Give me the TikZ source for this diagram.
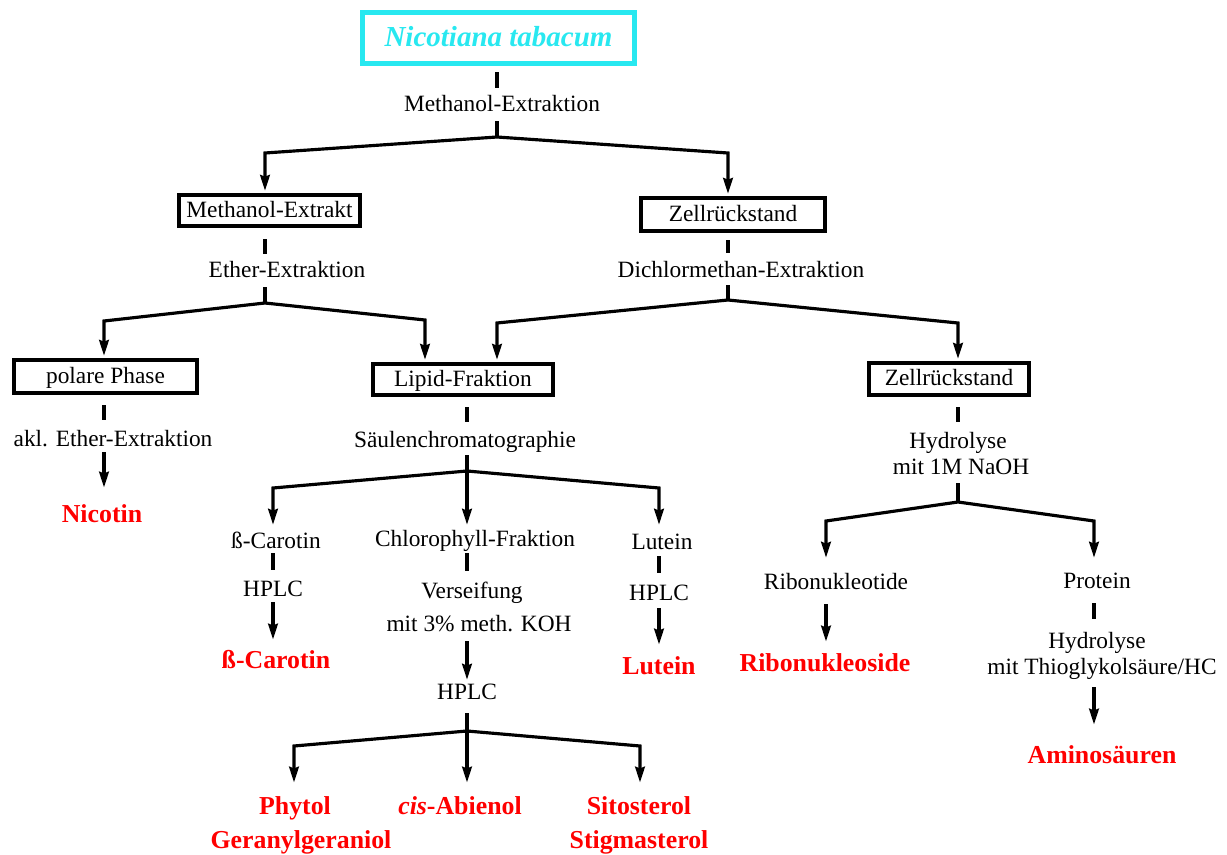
\documentclass[tikz,border=0pt]{standalone}
\usepackage{fontspec}
\setmainfont{Liberation Serif}
\usetikzlibrary{arrows.meta}
\definecolor{cyanbox}{RGB}{40,232,240}
\begin{document}
\begin{tikzpicture}[x=0.02cm,y=-0.02cm,
 lbl/.style={font=\fontsize{13.3}{16}\selectfont, inner sep=0pt, text height=10.5pt, text depth=2pt},
 res/.style={font=\fontsize{14.7}{17}\selectfont\bfseries, text=red, inner sep=0pt, text height=11.5pt, text depth=2.3pt},
 box/.style={draw, line width=2.5pt, inner sep=0pt, font=\fontsize{13.3}{16}\selectfont, text height=10pt, text depth=2.5pt},
 tk/.style={line width=1.8pt},
 ar/.style={line width=1.8pt, -{Stealth[length=9pt,width=5.5pt,inset=1pt]}},
]
\useasboundingbox (0,0) rectangle (1227,855);

% boxes
\node[draw=cyanbox, line width=2.8pt, inner sep=0pt, minimum width=5.44cm, minimum height=1.02cm,
      font=\fontsize{16.5}{19}\selectfont\bfseries\itshape, text=cyanbox, text height=12pt, text depth=2pt] (top) at (498.5,38) {Nicotiana tabacum};
\node[box, minimum width=3.62cm, minimum height=0.62cm] (mex) at (269.5,210.5) {Methanol-Extrakt};
\node[box, minimum width=3.68cm, minimum height=0.66cm] (zr1) at (733,214.5) {Zellrückstand};
\node[box, minimum width=3.66cm, minimum height=0.66cm] (pol) at (105.5,376.5) {polare Phase};
\node[box, minimum width=3.60cm, minimum height=0.62cm] (lip) at (463,379.5) {Lipid-Fraktion};
\node[box, minimum width=3.20cm, minimum height=0.64cm] (zr2) at (949,379) {Zellrückstand};

% labels
\node[lbl] (meth) at (502,104) {Methanol-Extraktion};
\node[lbl] (ethx) at (287,270) {Ether-Extraktion};
\node[lbl] (dcm) at (741,270) {Dichlormethan-Extraktion};
\node[lbl] (akl) at (113,439) {akl. Ether-Extraktion};
\node[lbl] (saeu) at (465,440) {Säulenchromatographie};
\node[lbl] (hyd1a) at (958,441) {Hydrolyse};
\node[lbl] (hyd1b) at (961,467) {mit 1M NaOH};
\node[lbl] (bcar) at (276,541) {ß-Carotin};
\node[lbl] (hplc1) at (273,589) {HPLC};
\node[lbl] (chl) at (475,539) {Chlorophyll-Fraktion};
\node[lbl] (vers) at (472,591) {Verseifung};
\node[lbl] (koh) at (479,624) {mit 3\% meth. KOH};
\node[lbl] (hplc2) at (467,692) {HPLC};
\node[lbl] (lut) at (662,542) {Lutein};
\node[lbl] (hplc3) at (659,593) {HPLC};
\node[lbl] (ribt) at (836,582) {Ribonukleotide};
\node[lbl] (prot) at (1097,581) {Protein};
\node[lbl] (hyd2a) at (1097,641) {Hydrolyse};
\node[lbl] (hyd2b) at (1102,667) {mit Thioglykolsäure/HC};

% results
\node[res] (nic) at (102,514) {Nicotin};
\node[res] (bcr) at (276,660) {ß-Carotin};
\node[res] (lutr) at (659,666) {Lutein};
\node[res] (ribs) at (825,663) {Ribonukleoside};
\node[res] (amino) at (1102,755) {Aminosäuren};
\node[res] (phy) at (295,806) {Phytol};
\node[res] (ger) at (301,840) {Geranylgeraniol};
\node[res] (cis) at (460,806) {\textit{cis}-Abienol};
\node[res] (sito) at (639,806) {Sitosterol};
\node[res] (stig) at (639,840) {Stigmasterol};

% branch points and corners
\coordinate (b1) at (497,137);
\coordinate (c1) at (265,153);
\coordinate (c2) at (728,153);
\coordinate (b2) at (265,303);
\coordinate (c3) at (104,321);
\coordinate (c4) at (425,320);
\coordinate (b3) at (728,300);
\coordinate (c5) at (497,323);
\coordinate (c6) at (958,323);
\coordinate (b4) at (467,471);
\coordinate (c7) at (273,488);
\coordinate (c8) at (659,488);
\coordinate (b5) at (467,731);
\coordinate (c9) at (294,746);
\coordinate (c10) at (640,746);
\coordinate (b6) at (958,502);
\coordinate (c11) at (826,521);
\coordinate (c12) at (1094,521);

% connectors
\draw[tk, shorten <=0.13cm, shorten >=0.1cm] (b1 |- top.south) -- (b1 |- meth.north);
\draw[tk, shorten <=0.12cm] (b1 |- meth.south) -- (b1);
\draw[ar, shorten >=0.04cm] (b1) -- (c1) -- (c1 |- mex.north);
\draw[ar, shorten >=0.04cm] (b1) -- (c2) -- (c2 |- zr1.north);
\draw[tk, shorten <=0.22cm, shorten >=0.1cm] (c1 |- mex.south) -- (c1 |- ethx.north);
\draw[tk, shorten <=0.12cm] (b2 |- ethx.south) -- (b2);
\draw[ar, shorten >=0.04cm] (b2) -- (c3) -- (c3 |- pol.north);
\draw[ar, shorten >=0.04cm] (b2) -- (c4) -- (c4 |- lip.north);
\draw[tk, shorten <=0.14cm, shorten >=0.12cm] (c2 |- zr1.south) -- (c2 |- dcm.north);
\draw[tk, shorten <=0.08cm] (b3 |- dcm.south) -- (b3);
\draw[ar, shorten >=0.04cm] (b3) -- (c5) -- (c5 |- lip.north);
\draw[ar, shorten >=0.04cm] (b3) -- (c6) -- (c6 |- zr2.north);
\draw[tk, shorten <=0.2cm, shorten >=0.16cm] (c3 |- pol.south) -- (c3 |- akl.north);
\draw[ar, shorten <=0.04cm, shorten >=0.28cm] (c3 |- akl.south) -- (c3 |- nic.north);
\draw[tk, shorten <=0.2cm, shorten >=0.14cm] (b4 |- lip.south) -- (b4 |- saeu.north);
\draw[ar, shorten <=0.08cm, shorten >=0.06cm] (b4 |- saeu.south) -- (b4 |- chl.north);
\draw[ar, shorten >=0.1cm] (b4) -- (c7) -- (c7 |- bcar.north);
\draw[ar, shorten >=0.12cm] (b4) -- (c8) -- (c8 |- lut.north);
\draw[tk, shorten <=0.02cm, shorten >=0.16cm] (c7 |- bcar.south) -- (c7 |- hplc1.north);
\draw[ar, shorten <=0.04cm, shorten >=0.16cm] (c7 |- hplc1.south) -- (c7 |- bcr.north);
\draw[tk, shorten <=0.06cm, shorten >=0.18cm] (b4 |- chl.south) -- (b4 |- vers.north);
\draw[ar, shorten <=0.12cm, shorten >=0.02cm] (b4 |- koh.south) -- (b4 |- hplc2.north);
\draw[ar, shorten <=0.2cm, shorten >=0.22cm] (b5 |- hplc2.south) -- (b5 |- cis.north);
\draw[ar, shorten >=0.22cm] (b5) -- (c9) -- (c9 |- phy.north);
\draw[ar, shorten >=0.22cm] (b5) -- (c10) -- (c10 |- sito.north);
\draw[tk, shorten <=0.06cm, shorten >=0.18cm] (c8 |- lut.south) -- (c8 |- hplc3.north);
\draw[ar, shorten <=0.08cm, shorten >=0.18cm] (c8 |- hplc3.south) -- (c8 |- lutr.north);
\draw[tk, shorten <=0.2cm, shorten >=0.16cm] (c6 |- zr2.south) -- (c6 |- hyd1a.north);
\draw[tk, shorten <=0.1cm] (b6 |- hyd1b.south) -- (b6);
\draw[ar, shorten >=0.26cm] (b6) -- (c11) -- (c11 |- ribt.north);
\draw[ar, shorten >=0.24cm] (b6) -- (c12) -- (c12 |- prot.north);
\draw[ar, shorten <=0.22cm, shorten >=0.18cm] (c11 |- ribt.south) -- (c11 |- ribs.north);
\draw[tk, shorten <=0.22cm, shorten >=0.22cm] (c12 |- prot.south) -- (c12 |- hyd2a.north);
\draw[ar, shorten <=0.18cm, shorten >=0.36cm] (c12 |- hyd2b.south) -- (c12 |- amino.north);
\end{tikzpicture}
\end{document}
